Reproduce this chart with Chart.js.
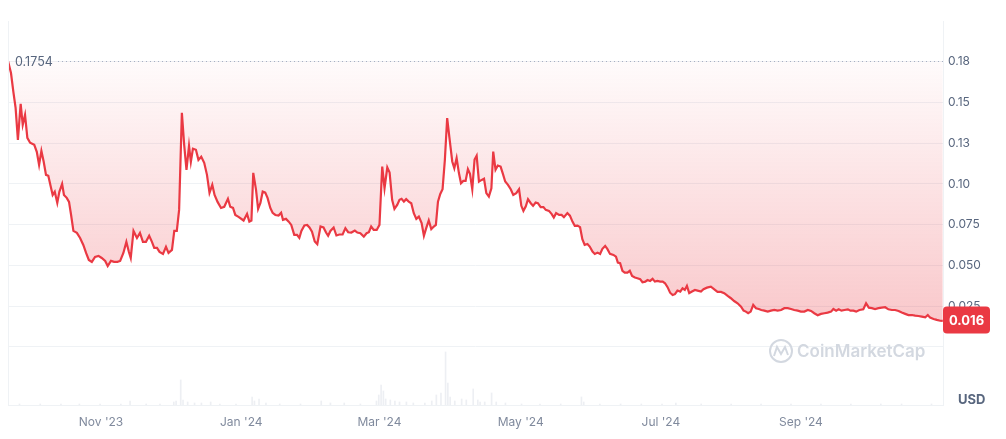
<!DOCTYPE html>
<html>
<head>
<meta charset="utf-8">
<script src="https://cdn.jsdelivr.net/npm/chart.js@4.4.1/dist/chart.umd.min.js"></script>
<style>
  html, body { margin: 0; padding: 0; background: #fff; }
  #wrap { width: 1006px; height: 439px; position: relative; }
</style>
</head>
<body>
<div id="wrap"><canvas id="chart-price"></canvas></div>
<script>
// days since 2023-09-21, price in USD
const days = [0,1.3,2.3,3.3,4.3,5.5,6.4,7.4,8.4,9.6,11.4,12.5,13.5,14.5,15.5,16.5,17.5,18.6,19.4,20.3,
  21.4,22.3,23.5,24.3,25.5,26.5,27.4,28.4,29.9,31.3,32.7,33.9,35.1,36.4,37.8,39.3,40.7,42.2,43.3,44.7,
  46.1,47.5,48.7,50.1,51.4,52.5,53.3,54.5,56.0,57.3,58.6,59.9,61.3,62.5,63.5,64.7,65.8,67.3,68.6,69.7,
  71.2,72.2,73.3,74.3,75.5,76.5,77.5,78.6,79.4,80.3,81.6,82.7,83.9,85.2,86.4,87.5,88.7,89.7,91.0,92.5,
  93.9,95.5,96.5,97.7,98.7,100.1,102.3,103.8,104.8,105.7,106.5,107.7,108.6,109.6,110.6,111.7,112.7,113.9,114.9,116.1,
  117.5,118.6,119.4,120.7,121.9,123.0,124.3,125.5,126.5,127.4,128.7,129.9,130.9,132.0,133.2,134.3,135.7,137.0,138.1,139.0,
  140.0,141.4,142.6,143.9,145.3,146.5,147.7,149.1,150.6,151.7,153.0,154.5,155.7,156.7,157.7,158.8,160.1,161.3,162.5,163.5,
  164.7,165.7,166.8,167.8,169.0,170.0,170.9,171.9,172.9,174.0,175.1,176.2,177.3,178.4,179.6,180.6,181.6,182.7,183.8,184.9,
  185.8,186.7,187.7,188.7,189.7,190.7,191.7,192.9,193.8,194.8,195.8,196.7,197.7,198.7,199.7,200.6,201.6,202.6,203.5,204.5,
  205.7,206.7,207.7,208.8,209.9,210.7,211.7,212.7,213.9,214.9,215.9,217.1,218.3,219.4,220.7,221.9,222.9,223.8,224.8,225.8,
  227.0,228.0,229.1,230.1,231.3,232.5,233.5,234.9,236.1,237.0,238.0,239.3,240.4,241.4,242.9,244.0,245.1,246.1,247.3,248.4,
  249.4,250.4,251.6,252.6,253.8,254.8,256.0,257.1,258.1,259.3,260.3,261.4,262.9,264.0,264.8,265.8,266.8,267.8,269.0,270.0,
  271.0,272.2,273.3,274.5,275.5,276.7,277.7,278.8,279.9,280.9,282.0,283.2,284.3,285.3,286.4,287.5,288.6,289.6,290.7,291.9,
  292.9,293.9,294.8,295.8,297.0,298.3,299.4,300.9,302.0,303.5,305.2,306.7,308.1,309.6,311.0,312.5,313.9,315.3,316.8,318.3,
  319.4,320.4,321.4,322.5,323.6,324.8,326.0,327.1,328.4,329.9,331.3,332.7,334.2,335.7,337.1,338.6,340.0,341.4,342.9,344.3,
  345.8,347.3,348.7,350.1,351.6,353.0,354.5,355.9,357.4,358.4,359.6,360.7,361.9,363.2,364.7,365.8,367.1,368.3,369.7,371.4,
  372.6,373.8,375.1,376.5,378.0,379.4,380.9,382.3,383.8,385.2,386.7,388.1,389.6,391.0,392.5,393.9,395.3,396.8,398.3,399.4,
  400.4,401.9,403.3,404.8,405.9];
const prices = [0.1754,0.1681,0.1568,0.1467,0.1271,0.1492,0.1363,0.1424,0.1283,0.1253,0.1240,0.1197,0.1117,0.1203,0.1136,0.1056,0.1050,0.0982,0.0933,0.0952,
  0.0884,0.0952,0.1001,0.0933,0.0915,0.0890,0.0810,0.0712,0.0700,0.0669,0.0626,0.0577,0.0534,0.0522,0.0553,0.0559,0.0546,0.0528,0.0497,0.0528,
  0.0522,0.0522,0.0528,0.0577,0.0645,0.0583,0.0546,0.0712,0.0669,0.0700,0.0645,0.0645,0.0682,0.0645,0.0608,0.0608,0.0583,0.0571,0.0614,0.0577,
  0.0596,0.0712,0.0712,0.0841,0.1437,0.1240,0.1087,0.1234,0.1136,0.1216,0.1210,0.1148,0.1167,0.1130,0.1056,0.0946,0.0995,0.0933,0.0890,0.0853,
  0.0860,0.0909,0.0860,0.0853,0.0810,0.0798,0.0776,0.0817,0.0769,0.0776,0.1068,0.0964,0.0847,0.0884,0.0954,0.0947,0.0915,0.0853,0.0823,0.0810,
  0.0806,0.0823,0.0780,0.0786,0.0769,0.0749,0.0688,0.0688,0.0669,0.0712,0.0745,0.0749,0.0733,0.0708,0.0647,0.0631,0.0739,0.0733,0.0702,0.0682,
  0.0712,0.0733,0.0684,0.0690,0.0690,0.0729,0.0704,0.0702,0.0714,0.0702,0.0698,0.0677,0.0698,0.0704,0.0739,0.0718,0.0718,0.0749,0.1107,0.0974,
  0.1101,0.1070,0.0903,0.0847,0.0872,0.0903,0.0909,0.0892,0.0907,0.0892,0.0882,0.0821,0.0786,0.0800,0.0760,0.0682,0.0729,0.0776,0.0723,0.0739,
  0.0749,0.0892,0.0939,0.0968,0.1148,0.1404,0.1281,0.1138,0.1097,0.1159,0.1067,0.1005,0.1019,0.1019,0.1091,0.1062,0.0968,0.1150,0.1173,0.1015,
  0.1025,0.1032,0.0944,0.0923,0.0974,0.1199,0.1087,0.1113,0.1107,0.1062,0.1015,0.0995,0.0968,0.0933,0.0944,0.0968,0.0866,0.0835,0.0862,0.0907,
  0.0882,0.0866,0.0886,0.0882,0.0858,0.0858,0.0841,0.0835,0.0815,0.0794,0.0821,0.0810,0.0810,0.0796,0.0821,0.0806,0.0769,0.0743,0.0745,0.0735,
  0.0661,0.0626,0.0632,0.0616,0.0585,0.0571,0.0579,0.0571,0.0602,0.0620,0.0600,0.0571,0.0565,0.0554,0.0518,0.0514,0.0467,0.0456,0.0456,0.0468,
  0.0436,0.0426,0.0422,0.0416,0.0397,0.0401,0.0411,0.0405,0.0418,0.0401,0.0405,0.0401,0.0401,0.0391,0.0367,0.0333,0.0319,0.0324,0.0346,0.0340,
  0.0360,0.0350,0.0375,0.0330,0.0340,0.0350,0.0346,0.0340,0.0354,0.0364,0.0370,0.0354,0.0338,0.0338,0.0330,0.0313,0.0299,0.0282,0.0268,0.0247,
  0.0223,0.0217,0.0207,0.0217,0.0258,0.0238,0.0233,0.0227,0.0223,0.0217,0.0223,0.0227,0.0223,0.0227,0.0238,0.0238,0.0233,0.0227,0.0223,0.0217,
  0.0217,0.0227,0.0221,0.0207,0.0195,0.0203,0.0207,0.0211,0.0217,0.0233,0.0223,0.0231,0.0223,0.0227,0.0231,0.0223,0.0223,0.0217,0.0227,0.0231,
  0.0268,0.0241,0.0238,0.0233,0.0238,0.0241,0.0244,0.0231,0.0227,0.0227,0.0221,0.0211,0.0203,0.0196,0.0196,0.0192,0.0190,0.0186,0.0182,0.0196,
  0.0180,0.0172,0.0166,0.0161,0.0160];

// 24h volume (thousand USD), sparse days
const volDays = [5,14,23,31,40,49,53,60,66,72,73,75,76,78,81,84,88,92,99,106,
  107,109,112,118,127,136,140,146,153,160,161,162,163,164,166,168,170,173,176,181,
  184,186,188,190,191,192,194,197,199,202,204,205,207,210,212,216,223,231,240,249,
  250,257,266,275,284,290,301,314,327,340,353,366,379,388,401];
const volumes = [1,1,1,1,1,1,4,1,1,3,4,25,5,3,2,2,3,1,1,8,
  4,6,2,1,1,4,2,2,1,4,10,20,14,6,5,4,3,3,2,2,
  4,10,12,53,22,8,4,6,5,16,5,3,3,12,3,2,1,1,1,8,
  3,1,1,1,1,2,1,1,1,1,1,1,1,1,1];

const xTickDays = [40.4, 101.3, 161.3, 222.6, 283.5, 344.3];
const xTickLabels = ["Nov '23", "Jan '24", "Mar '24", "May '24", "Jul '24", "Sep '24"];
const yTickValues = [0, 0.025, 0.05, 0.075, 0.1, 0.125, 0.15, 0.175];
const yTickLabels = ['', '0.025', '0.050', '0.075', '0.10', '0.13', '0.15', '0.18'];

const openPrice = 0.1754;
const lastPrice = 0.016;

const RED = '#ea3943';
const GRID = '#eff2f5';
const TEXT = '#58667e';

const decorPlugin = {
    id: 'decor',
    afterDraw(chart) {
        const { ctx, chartArea: a, scales } = chart;
        const y = scales.y;
        ctx.save();

        // left border
        ctx.strokeStyle = GRID;
        ctx.lineWidth = 1;
        ctx.beginPath();
        ctx.moveTo(a.left + 0.5, a.top);
        ctx.lineTo(a.left + 0.5, a.bottom);
        ctx.stroke();

        // opening price reference line
        const yo = Math.round(y.getPixelForValue(openPrice)) + 0.5;
        ctx.strokeStyle = '#a6b0c3';
        ctx.setLineDash([1, 3]);
        ctx.beginPath();
        ctx.moveTo(a.left + 50, yo);
        ctx.lineTo(a.right, yo);
        ctx.stroke();
        ctx.setLineDash([]);
        ctx.fillStyle = TEXT;
        ctx.font = '12.5px Inter';
        ctx.textBaseline = 'middle';
        ctx.textAlign = 'left';
        ctx.fillText(openPrice.toString(), a.left + 7, yo + 1);

        // watermark
        const wy = 351;
        ctx.strokeStyle = '#d3d8e0';
        ctx.lineWidth = 2;
        ctx.beginPath();
        ctx.arc(781, wy, 11, 0, Math.PI * 2);
        ctx.stroke();
        ctx.beginPath();
        ctx.moveTo(774, wy + 5);
        ctx.lineTo(777, wy - 4);
        ctx.lineTo(781, wy + 3);
        ctx.lineTo(785, wy - 4);
        ctx.lineTo(788, wy + 4);
        ctx.stroke();
        ctx.fillStyle = '#d3d8e0';
        ctx.font = '600 17px Inter';
        ctx.fillText('CoinMarketCap', 797, wy + 1);

        // last price badge
        const yl = y.getPixelForValue(lastPrice);
        const bx = a.right, bw = 47, bh = 27;
        ctx.fillStyle = RED;
        ctx.beginPath();
        ctx.roundRect(bx, yl - bh / 2 - 1, bw, bh, 4);
        ctx.fill();
        ctx.fillStyle = '#fff';
        ctx.font = 'bold 13px Inter';
        ctx.textAlign = 'center';
        ctx.fillText(lastPrice.toFixed(3), bx + bw / 2, yl);

        // currency
        ctx.fillStyle = TEXT;
        ctx.font = 'bold 13px Inter';
        ctx.textAlign = 'left';
        ctx.fillText('USD', 958, 400);
        ctx.restore();
    }
};

const canvas = document.getElementById('chart-price');

new Chart(canvas, {
    data: {
        datasets: [{
            type: 'line',
            label: 'Price',
            data: days.map((d, i) => ({ x: d, y: prices[i] })),
            yAxisID: 'y',
            borderColor: RED,
            borderWidth: 2.2,
            pointRadius: 0,
            tension: 0,
            fill: { value: openPrice },
            backgroundColor: (c) => {
                const chart = c.chart;
                if (!chart.chartArea) return 'rgba(234,57,67,0.1)';
                const top = chart.scales.y.getPixelForValue(openPrice);
                const bot = chart.scales.y.getPixelForValue(0);
                const g = chart.ctx.createLinearGradient(0, top, 0, bot);
                g.addColorStop(0, 'rgba(234,57,67,0.02)');
                g.addColorStop(1, 'rgba(234,57,67,0.30)');
                return g;
            },
            order: 1
        }, {
            type: 'bar',
            label: 'Volume',
            data: volDays.map((d, i) => ({ x: d, y: volumes[i] })),
            yAxisID: 'yv',
            backgroundColor: 'rgba(214,219,228,0.45)',
            barThickness: 1,
            order: 2
        }]
    },
    options: {
        responsive: true,
        maintainAspectRatio: false,
        animation: false,
        layout: { padding: { left: 8, top: 21, right: 0, bottom: 0 } },
        plugins: {
            legend: { display: false },
            tooltip: { enabled: false }
        },
        scales: {
            x: {
                type: 'linear',
                offset: false,
                min: 0,
                max: 406,
                afterBuildTicks: (s) => { s.ticks = xTickDays.map(v => ({ value: v })); },
                afterFit: (s) => { s.height = 34; },
                grid: { display: false, drawTicks: false, offset: false },
                border: { display: true, color: GRID },
                ticks: {
                    color: '#808a9d',
                    font: { family: 'Inter', size: 12 },
                    padding: 10,
                    maxRotation: 0,
                    autoSkip: false,
                    callback: (v, i) => xTickLabels[i]
                }
            },
            y: {
                position: 'right',
                min: -0.0356,
                max: 0.2,
                afterBuildTicks: (s) => { s.ticks = yTickValues.map(v => ({ value: v })); },
                afterFit: (s) => { s.width = 63; },
                grid: { color: GRID, drawTicks: false },
                border: { display: true, color: GRID },
                ticks: {
                    color: TEXT,
                    font: { family: 'Inter', size: 12 },
                    padding: 5,
                    callback: (v, i) => yTickLabels[i]
                }
            },
            yv: {
                display: false,
                min: 0,
                max: 384
            }
        }
    },
    plugins: [decorPlugin]
});
</script>
</body>
</html>
